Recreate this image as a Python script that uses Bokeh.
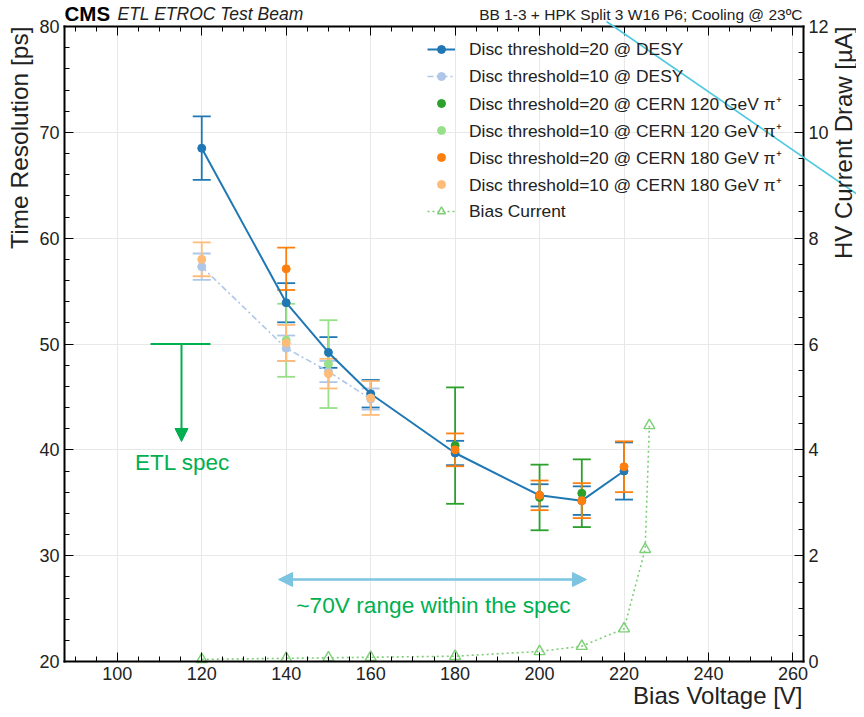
import numpy as np
from bokeh.plotting import figure
from bokeh.models import (Range1d, LinearAxis, Whisker, ColumnDataSource, Legend, LegendItem,
                          Label, Arrow, NormalHead, TeeHead, SingleIntervalTicker,
                          CustomJSTickFormatter)
from bokeh.embed import file_html
from bokeh.resources import INLINE

# ---------------- data ----------------
desy20_v = [120, 140, 150, 160, 180, 200, 210, 220]
desy20_t = [68.5, 53.9, 49.2, 45.3, 39.7, 35.7, 35.2, 38.0]
desy20_e = [3.0, 1.85, 1.45, 1.3, 1.15, 1.05, 1.35, 2.7]

desy10_v = [120, 140, 150, 160]
desy10_t = [57.3, 49.6, 47.4, 44.8]
desy10_e = [1.25, 1.2, 1.0, 1.0]

cern120_20_v = [180, 200, 210]
cern120_20_t = [40.4, 35.5, 35.9]
cern120_20_e = [5.5, 3.1, 3.2]

cern120_10_v = [140, 150]
cern120_10_t = [50.35, 48.1]
cern120_10_e = [3.45, 4.15]

cern180_20_v = [140, 180, 200, 210, 220]
cern180_20_t = [57.1, 40.0, 35.7, 35.2, 38.4]
cern180_20_e = [2.0, 1.55, 1.4, 1.65, 2.4]

cern180_10_v = [120, 140, 150, 160]
cern180_10_t = [58.0, 50.1, 47.2, 44.9]
cern180_10_e = [1.6, 1.7, 1.4, 1.6]

bias_v = [120, 140, 150, 160, 180, 200, 210, 220, 225, 226]
bias_i = [0.04, 0.06, 0.07, 0.08, 0.10, 0.19, 0.29, 0.62, 2.12, 4.46]

labels = ["Disc threshold=20 @ DESY", "Disc threshold=10 @ DESY",
          "Disc threshold=20 @ CERN 120 GeV \u03c0\u207a", "Disc threshold=10 @ CERN 120 GeV \u03c0\u207a",
          "Disc threshold=20 @ CERN 180 GeV \u03c0\u207a", "Disc threshold=10 @ CERN 180 GeV \u03c0\u207a",
          "Bias Current"]
colors = ["#1f77b4", "#aec7e8", "#2ca02c", "#98df8a", "#ff7f0e", "#ffbb78"]
bias_color = "#7ccf76"
spec_green = "#00b050"
range_blue = "#7cc4e0"
FONT = "Liberation Sans"
TXT = "#222222"

# ---------------- layout (pixels) ----------------
W, H = 856, 709
FL, FR, FT, FB = 64, 803, 26, 661          # data box in canvas pixels
X0, X1 = 87.5, 262.5
Y0, Y1 = 20.0, 80.0
C0, C1 = 0.0, 12.0
sx = (X1 - X0) / (FR - FL)
sy = (Y1 - Y0) / (FB - FT)
sc = (C1 - C0) / (FB - FT)

def X(px):
    return X0 + (px - FL) * sx

def Y(py):
    return Y1 - (py - FT) * sy

p = figure(width=W, height=H,
           x_range=Range1d(X0 - FL * sx, X1 + (W - FR) * sx),
           y_range=Range1d(Y0 - (H - FB) * sy, Y1 + FT * sy),
           x_axis_location=None, y_axis_location=None,
           output_backend="svg", toolbar_location=None, min_border=0)
p.extra_y_ranges = {"cur": Range1d(C0 - (H - FB) * sc, C1 + FT * sc)}
p.outline_line_color = None
p.background_fill_color = "white"
p.border_fill_color = "white"
for g in p.grid:
    g.visible = False

blank = CustomJSTickFormatter(code="return '';")

def style_axis(ax, show_labels=True):
    ax.axis_line_color = "black"
    ax.axis_line_width = 2
    ax.axis_line_cap = "square"
    ax.major_tick_in = 9
    ax.major_tick_out = 0
    ax.minor_tick_in = 5
    ax.minor_tick_out = 0
    ax.major_tick_line_color = "black"
    ax.minor_tick_line_color = "black"
    ax.major_label_text_font = FONT
    ax.major_label_text_font_size = "18px"
    ax.major_label_text_color = TXT
    ax.major_label_standoff = 5
    if not show_labels:
        ax.formatter = blank

def grid_axis(ax, length):
    ax.axis_line_color = None
    ax.major_tick_in = length
    ax.major_tick_out = 0
    ax.minor_tick_line_color = None
    ax.major_tick_line_color = "#e8e8e8"
    ax.major_tick_line_width = 1
    ax.formatter = blank
    ax.level = "underlay"

# grid lines (drawn as long ticks inside the data box)
gx = LinearAxis(fixed_location=Y0, bounds=(X0, X1),
                ticker=SingleIntervalTicker(interval=20, num_minor_ticks=0))
grid_axis(gx, FB - FT)
p.add_layout(gx, "below")
gy = LinearAxis(fixed_location=X0, bounds=(Y0, Y1),
                ticker=SingleIntervalTicker(interval=10, num_minor_ticks=0))
grid_axis(gy, FR - FL)
p.add_layout(gy, "left")

# frame axes
bottom = LinearAxis(fixed_location=Y0, bounds=(X0, X1),
                    ticker=SingleIntervalTicker(interval=20, num_minor_ticks=4))
style_axis(bottom)
p.add_layout(bottom, "below")
left = LinearAxis(fixed_location=X0, bounds=(Y0, Y1),
                  ticker=SingleIntervalTicker(interval=10, num_minor_ticks=5))
style_axis(left)
p.add_layout(left, "left")
top = LinearAxis(fixed_location=Y1, bounds=(X0, X1),
                 ticker=SingleIntervalTicker(interval=20, num_minor_ticks=4))
style_axis(top, show_labels=False)
p.add_layout(top, "above")
right = LinearAxis(y_range_name="cur", fixed_location=X1, bounds=(C0, C1),
                   ticker=SingleIntervalTicker(interval=2, num_minor_ticks=4))
style_axis(right)
p.add_layout(right, "right")

# ---------------- series ----------------
series = [(desy20_v, desy20_t, desy20_e), (desy10_v, desy10_t, desy10_e),
          (cern120_20_v, cern120_20_t, cern120_20_e), (cern120_10_v, cern120_10_t, cern120_10_e),
          (cern180_20_v, cern180_20_t, cern180_20_e), (cern180_10_v, cern180_10_t, cern180_10_e)]

items = []
for i, (v, t, e) in enumerate(series):
    c = colors[i]
    src = ColumnDataSource(dict(x=v, y=t,
                                upper=[a + b for a, b in zip(t, e)],
                                lower=[a - b for a, b in zip(t, e)]))
    w = Whisker(base="x", upper="upper", lower="lower", source=src, level="underlay",
                line_color=c, line_width=1.8,
                upper_head=TeeHead(size=18, line_color=c, line_width=1.8),
                lower_head=TeeHead(size=18, line_color=c, line_width=1.8))
    p.add_layout(w)
    rends = []
    if i == 0:
        rends.append(p.line("x", "y", source=src, line_color=c, line_width=2))
    elif i == 1:
        rends.append(p.line("x", "y", source=src, line_color=c, line_width=1.6,
                            line_dash="6 3 2 3"))
    rends.append(p.scatter("x", "y", source=src, marker="circle", size=8,
                           fill_color=c, line_color=c))
    items.append(LegendItem(label=labels[i], renderers=rends))

# bias current (right axis)
bsrc = ColumnDataSource(dict(x=bias_v, y=bias_i))
bl = p.line("x", "y", source=bsrc, y_range_name="cur", line_color=bias_color,
            line_width=1.6, line_dash="2 3")
bs = p.scatter("x", "y", source=bsrc, y_range_name="cur", marker="triangle", size=11,
               fill_color="white", fill_alpha=0, line_color=bias_color, line_width=1.4)
items.append(LegendItem(label=labels[6], renderers=[bl, bs]))

legend = Legend(items=items, location=(422, 481), glyph_width=28, glyph_height=20,
                label_standoff=14, spacing=3, padding=5, margin=0,
                background_fill_alpha=0, border_line_alpha=0,
                label_text_font=FONT, label_text_font_size="17.4px", label_height=24,
                label_text_color=TXT)
p.add_layout(legend)

# ---------------- annotations ----------------
p.add_layout(Arrow(end=None, x_start=X(150), y_start=50, x_end=X(210), y_end=50,
                   line_color=spec_green, line_width=2))
p.add_layout(Arrow(end=NormalHead(size=13, fill_color=spec_green, line_color=spec_green),
                   x_start=X(181), y_start=50, x_end=X(181), y_end=Y(441),
                   line_color=spec_green, line_width=2))
p.add_layout(Label(x=X(182), y=Y(462), text="ETL spec", text_align="center",
                   text_baseline="middle", text_font=FONT, text_font_size="22.5px",
                   text_color=spec_green))

p.add_layout(Arrow(start=NormalHead(size=14, fill_color=range_blue, line_color=range_blue),
                   end=NormalHead(size=14, fill_color=range_blue, line_color=range_blue),
                   x_start=X(278), y_start=Y(579), x_end=X(586), y_end=Y(579),
                   line_color=range_blue, line_width=2.5))
p.add_layout(Label(x=X(433), y=Y(604), text="~70V range within the spec", text_align="center",
                   text_baseline="middle", text_font=FONT, text_font_size="22.7px",
                   text_color=spec_green))

p.add_layout(Arrow(end=None, x_start=X(606), y_start=Y(21), x_end=X(870), y_end=Y(203),
                   line_color="#4fc9e0", line_width=1.6))

# header texts
p.add_layout(Label(x=X(64), y=Y(13), text="CMS", text_align="left", text_baseline="middle",
                   text_font=FONT, text_font_style="bold", text_font_size="20.5px",
                   text_color="black"))
p.add_layout(Label(x=X(117), y=Y(13), text="ETL ETROC Test Beam", text_align="left",
                   text_baseline="middle", text_font=FONT, text_font_style="italic",
                   text_font_size="17.5px", text_color=TXT))
p.add_layout(Label(x=X(802), y=Y(14), text="BB 1-3 + HPK Split 3 W16 P6; Cooling @ 23\u00baC",
                   text_align="right", text_baseline="middle", text_font=FONT,
                   text_font_size="15.5px", text_color=TXT))

# axis titles
p.add_layout(Label(x=X(19), y=Y(FT), text="Time Resolution [ps]", angle=np.pi / 2,
                   text_align="right", text_baseline="middle", text_font=FONT,
                   text_font_size="24.5px", text_color=TXT))
p.add_layout(Label(x=X(802), y=Y(695), text="Bias Voltage [V]", text_align="right",
                   text_baseline="middle", text_font=FONT, text_font_size="24px",
                   text_color=TXT))
p.add_layout(Label(x=X(843), y=Y(FT), text="HV Current Draw [\u00b5A]", angle=np.pi / 2,
                   text_align="right", text_baseline="middle", text_font=FONT,
                   text_font_size="24px", text_color=TXT))

open("out.html", "w").write(file_html(p, INLINE))
